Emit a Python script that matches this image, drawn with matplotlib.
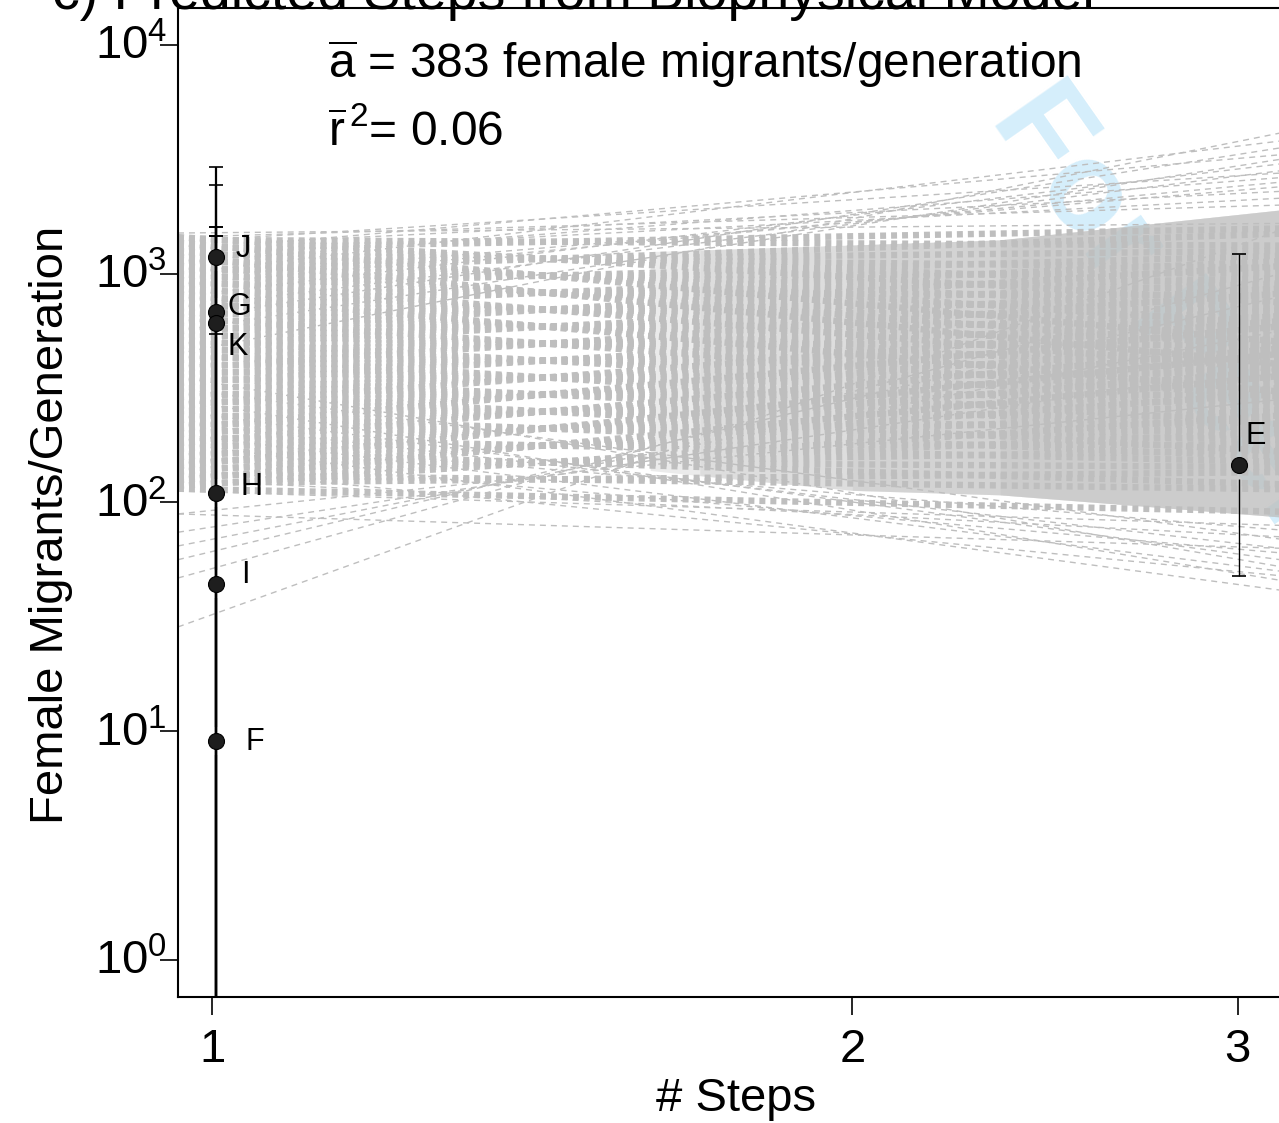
import numpy as np
import matplotlib
matplotlib.use('Agg')
import matplotlib.pyplot as plt
from matplotlib import transforms
from matplotlib.ticker import NullLocator

plt.rcParams['font.family'] = ['Liberation Sans', 'DejaVu Sans']
plt.rcParams['mathtext.fontset'] = 'custom'
plt.rcParams['mathtext.rm'] = 'Liberation Sans'
plt.rcParams['mathtext.it'] = 'Liberation Sans:italic'
plt.rcParams['mathtext.bf'] = 'Liberation Sans:bold'
plt.rcParams['lines.scale_dashes'] = False

# Observed sites (points with error bars)
site_labels = ['J', 'G', 'K', 'H', 'I', 'F', 'E']
site_steps = [1.004, 1.004, 1.004, 1.004, 1.004, 1.004, 3.003]
site_migrants = [1183, 680, 609, 110, 44, 9.1, 146]
site_upper = [2440, 2930, 1600, 1460, 1460, 1600, 1220]
site_lower = [546, 0.1, 0.1, 0.1, 0.1, 0.01, 47.7]

# label offsets in points (style, not data)
label_dx = [14.4, 8.6, 8.6, 17.3, 18.0, 20.9, 5.0]
label_dy = [5.8, 3.6, -17.3, 4.3, 6.5, -0.7, 20.9]

# Predicted lines from biophysical model: log10 migrants at both ends of the step range
fan_steps = [0.9624, 3.135]
core_left_log = [2.060, 2.073, 2.085, 2.098, 2.110, 2.123, 2.135, 2.148, 2.160, 2.173,
                 2.185, 2.198, 2.210, 2.223, 2.235, 2.248, 2.260, 2.273, 2.285, 2.298,
                 2.310, 2.323, 2.335, 2.348, 2.360, 2.373, 2.385, 2.398, 2.410, 2.423,
                 2.435, 2.448, 2.460, 2.473, 2.485, 2.498, 2.510, 2.523, 2.535, 2.548,
                 2.560, 2.573, 2.585, 2.598, 2.610, 2.623, 2.635, 2.648, 2.660, 2.673,
                 2.685, 2.698, 2.710, 2.723, 2.735, 2.748, 2.760, 2.773, 2.785, 2.798,
                 2.810, 2.823, 2.835, 2.848, 2.860, 2.873, 2.885, 2.898, 2.910, 2.923,
                 2.935, 2.948, 2.960, 2.973, 2.985, 2.998, 3.010, 3.023, 3.035, 3.048,
                 3.060, 3.073, 3.085, 3.098, 3.110, 3.123, 3.135, 3.148, 3.160]
core_right_log = [1.960, 2.380, 2.133, 2.553, 2.305, 2.058, 2.478, 2.230, 2.650, 2.403,
                  2.155, 2.575, 2.328, 2.080, 2.500, 2.253, 2.673, 2.425, 2.178, 2.598,
                  2.350, 2.770, 2.523, 2.275, 2.695, 2.448, 2.200, 2.620, 2.373, 2.793,
                  2.545, 2.298, 2.718, 2.470, 2.223, 2.643, 2.395, 2.815, 2.568, 2.320,
                  2.740, 2.493, 2.913, 2.665, 2.418, 2.838, 2.590, 2.343, 2.763, 2.515,
                  2.935, 2.688, 2.440, 2.860, 2.613, 3.033, 2.785, 2.538, 2.958, 2.710,
                  2.463, 2.883, 2.635, 3.055, 2.808, 2.560, 2.980, 2.733, 2.485, 2.905,
                  2.658, 3.078, 2.830, 2.583, 3.003, 2.755, 3.175, 2.928, 2.680, 3.100,
                  2.853, 2.605, 3.025, 2.778, 3.198, 2.950, 2.703, 3.123, 2.875]
outer_left_log = [3.178, 3.16, 2.65, 2.80, 2.90, 3.05, 2.95, 3.12, 2.75, 3.08,
                  3.00, 3.10, 2.85, 2.98, 3.14,
                  1.456, 1.67, 1.75, 1.81, 1.87, 1.95, 2.26, 2.30, 2.20, 2.10,
                  2.35, 2.05, 1.95, 2.40, 2.45, 2.55, 2.15, 2.50, 2.28]
outer_right_log = [3.22, 3.30, 3.615, 3.55, 3.48, 3.42, 3.40, 3.36, 3.50, 3.33,
                   3.58, 3.52, 3.45, 3.38, 3.44,
                   3.19, 3.00, 2.90, 2.75, 2.60, 2.45, 1.617, 1.70, 1.78, 1.85,
                   1.80, 1.90, 1.80, 1.75, 1.66, 1.72, 1.68, 1.84, 1.88]

# where the overlapping lines merge into a solid band
dense_steps = [1.612, 1.700, 2.0, 2.338, 3.135]
dense_upper = [1250, 1270, 1335, 1406, 1900]
dense_lower = [138, 131, 113, 108, 86.5]

fig = plt.figure(figsize=(12.79, 11.23), dpi=100)
ax = fig.add_axes([178 / 1279, 126 / 1123, 1102 / 1279, 989 / 1123])
ax.set_xscale('function', functions=(lambda x: np.log10(x + 0.1), lambda v: 10 ** v - 0.1))
ax.set_yscale('log')
ax.set_xlim(0.9624, 3.135)
ax.set_ylim(0.689, 14510)

grey = '#bebebe'
# build the solid band up gradually so it blends into the striped part
for k in range(4):
    ax.fill_between(dense_steps[k:], dense_lower[k:], dense_upper[k:],
                    color=grey, alpha=0.3, lw=0, zorder=0.8)
for lo, hi in zip(core_left_log, core_right_log):
    ax.plot(fan_steps, [10 ** lo, 10 ** hi], color=grey, lw=4.6,
            dashes=(4.3, 3.6), dash_capstyle='butt', zorder=1)
for lo, hi in zip(outer_left_log, outer_right_log):
    ax.plot(fan_steps, [10 ** lo, 10 ** hi], color=grey, lw=1.0,
            dashes=(4.3, 3.6), dash_capstyle='butt', zorder=1)

# watermark
ax.text(990 / 1279, 1 - 118 / 1123, 'For Peer Review', transform=fig.transFigure,
        rotation=-55, rotation_mode='anchor', ha='left', va='baseline',
        fontsize=92, fontweight='bold', color='#d5eefb', zorder=0.5)

# error bars with a small gap around each point
gap = 10 ** (14 / 228.75)
steps = np.array(site_steps)
mig = np.array(site_migrants)
left = steps < 2
for sel, lw in [(left, 1.6), (~left, 1.0)]:
    ax.vlines(steps[sel], np.array(site_lower)[sel], mig[sel] / gap, color='black', lw=lw, zorder=3)
    ax.vlines(steps[sel], mig[sel] * gap, np.array(site_upper)[sel], color='black', lw=lw, zorder=3)
    ax.plot(steps[sel], np.array(site_upper)[sel], ls='none', marker='_', ms=9.4,
            mew=1.2, color='black', zorder=3)
    ax.plot(steps[sel], np.array(site_lower)[sel], ls='none', marker='_', ms=9.4,
            mew=1.2, color='black', zorder=3)

ax.plot(site_steps, site_migrants, ls='none', marker='o', ms=11.5,
        mfc='#1e1e1e', mec='black', mew=0.8, zorder=4)
for lab, x, y, dx, dy in zip(site_labels, site_steps, site_migrants, label_dx, label_dy):
    ax.annotate(lab, (x, y), xytext=(dx, dy), textcoords='offset points',
                ha='left', va='center', fontsize=22, zorder=5)

# axes styling
ax.set_xticks([1, 2, 3])
ax.set_xticklabels(['1', '2', '3'])
ax.xaxis.set_minor_locator(NullLocator())
ax.set_yticks([1, 10, 100, 1000, 10000])
ax.set_yticklabels([r'$10^{0}$', r'$10^{1}$', r'$10^{2}$', r'$10^{3}$', r'$10^{4}$'])
ax.yaxis.set_minor_locator(NullLocator())
ax.tick_params(axis='both', length=13, width=1.2, labelsize=34)
ax.tick_params(axis='x', pad=9)
ax.tick_params(axis='y', pad=-5)
shift = transforms.ScaledTranslation(0, 2 / 72, fig.dpi_scale_trans)
for lbl in ax.get_yticklabels():
    lbl.set_transform(lbl.get_transform() + shift)
for side in ['left', 'bottom', 'top']:
    ax.spines[side].set_linewidth(1.5)
ax.spines['right'].set_visible(False)

ax.set_ylabel('Female Migrants/Generation', fontsize=34)
ax.yaxis.set_label_coords(-0.095, 0.477)
ax.set_xlabel('# Steps', fontsize=34, va='top')
ax.xaxis.set_label_coords(0.506, -0.081)

fig.text(328 / 1279, 1 - 78 / 1123, r'$\overline{\mathrm{a}}$ = 383 female migrants/generation',
         fontsize=34.5, va='baseline')
fig.text(328 / 1279, 1 - 146 / 1123, r'$\overline{\mathrm{r}}^{\,2}$= 0.06',
         fontsize=34.5, va='baseline')
fig.text(52 / 1279, 1 - 9 / 1123, 'c) Predicted Steps from Biophysical Model',
         fontsize=40, va='baseline')

fig.savefig('out.png', dpi=100)
